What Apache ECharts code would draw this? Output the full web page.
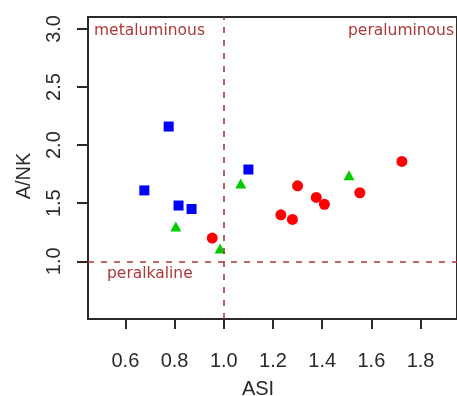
<!DOCTYPE html>
<html>
<head>
<meta charset="utf-8">
<script src="https://cdn.jsdelivr.net/npm/echarts@6/dist/echarts.min.js"></script>
<style>
  html, body { margin: 0; padding: 0; background: #fff; }
  #chart { width: 457px; height: 396px; }
</style>
</head>
<body>
<div id="chart"></div>
<script>
// ASI vs A/NK discrimination plot, three sample groups
const groupA_asi = [0.776, 0.677, 0.816, 0.869, 1.100];   // blue squares
const groupA_ank = [2.16, 1.61, 1.48, 1.45, 1.79];
const groupB_asi = [0.805, 0.985, 1.069, 1.509];          // green triangles
const groupB_ank = [1.30, 1.11, 1.67, 1.74];
const groupC_asi = [0.953, 1.300, 1.232, 1.279, 1.376, 1.409, 1.553, 1.724]; // red circles
const groupC_ank = [1.20, 1.65, 1.40, 1.36, 1.55, 1.49, 1.59, 1.86];

const xTicks = [0.6, 0.8, 1.0, 1.2, 1.4, 1.6, 1.8];
const yTicks = [1.0, 1.5, 2.0, 2.5, 3.0];
const asiBoundary = 1.0;
const ankBoundary = 1.0;
const fieldNames = ['metaluminous', 'peraluminous', 'peralkaline'];

const zip = (xs, ys) => xs.map((x, i) => [x, ys[i]]);

const boundaryColor = '#ac3838';
const tickFont = 'Liberation Sans, Arial, sans-serif';
const noteFont = '15.5px "DejaVu Sans", sans-serif';

const chart = echarts.init(document.getElementById('chart'), null, { renderer: 'canvas' });

chart.setOption({
  animation: false,
  backgroundColor: '#fff',
  grid: {
    left: 88, top: 17, right: -6, bottom: 77,
    show: true, borderColor: '#2a2a2a', borderWidth: 2, backgroundColor: 'transparent'
  },
  xAxis: {
    type: 'value', min: 0.448, max: 1.948,
    splitLine: { show: false },
    axisLine: { show: false },
    axisTick: { show: true, customValues: xTicks, length: 10, lineStyle: { color: '#2a2a2a', width: 2 } },
    axisLabel: {
      customValues: xTicks, margin: 32, fontSize: 20, color: '#2a2a2a', fontFamily: tickFont,
      formatter: v => v.toFixed(1)
    }
  },
  yAxis: {
    type: 'value', min: 0.503, max: 3.103,
    splitLine: { show: false },
    axisLine: { show: false },
    axisTick: { show: true, customValues: yTicks, length: 11, lineStyle: { color: '#2a2a2a', width: 2 } },
    axisLabel: {
      customValues: yTicks, margin: 24, rotate: 90, fontSize: 20, color: '#2a2a2a', fontFamily: tickFont,
      formatter: v => v.toFixed(1)
    }
  },
  series: [
    {
      type: 'scatter', data: zip(groupA_asi, groupA_ank),
      symbol: 'rect', symbolSize: 10, itemStyle: { color: '#0000ff', opacity: 1 },
      markLine: {
        silent: true, symbol: 'none', label: { show: false },
        lineStyle: { color: boundaryColor, type: [6, 7], width: 1.6 },
        data: [{ xAxis: asiBoundary }, { yAxis: ankBoundary }]
      }
    },
    {
      type: 'scatter', data: zip(groupB_asi, groupB_ank),
      symbol: 'triangle', symbolSize: [11, 10], itemStyle: { color: '#00cc00', opacity: 1 }
    },
    {
      type: 'scatter', data: zip(groupC_asi, groupC_ank),
      symbol: 'circle', symbolSize: 11, itemStyle: { color: '#ff0000', opacity: 1 }
    }
  ],
  graphic: [
    { type: 'text', left: 94, top: 23, style: { text: fieldNames[0], fill: boundaryColor, font: noteFont } },
    { type: 'text', right: 3, top: 23, style: { text: fieldNames[1], fill: boundaryColor, font: noteFont } },
    { type: 'text', left: 107, top: 266, style: { text: fieldNames[2], fill: boundaryColor, font: noteFont } },
    { type: 'text', x: 258, y: 389, style: { text: 'ASI', fill: '#2a2a2a', font: '20px ' + tickFont, align: 'center', verticalAlign: 'middle' } },
    { type: 'text', x: 24, y: 176, rotation: Math.PI / 2, style: { text: 'A/NK', fill: '#2a2a2a', font: '20px ' + tickFont, align: 'center', verticalAlign: 'middle' } }
  ]
});
</script>
</body>
</html>
